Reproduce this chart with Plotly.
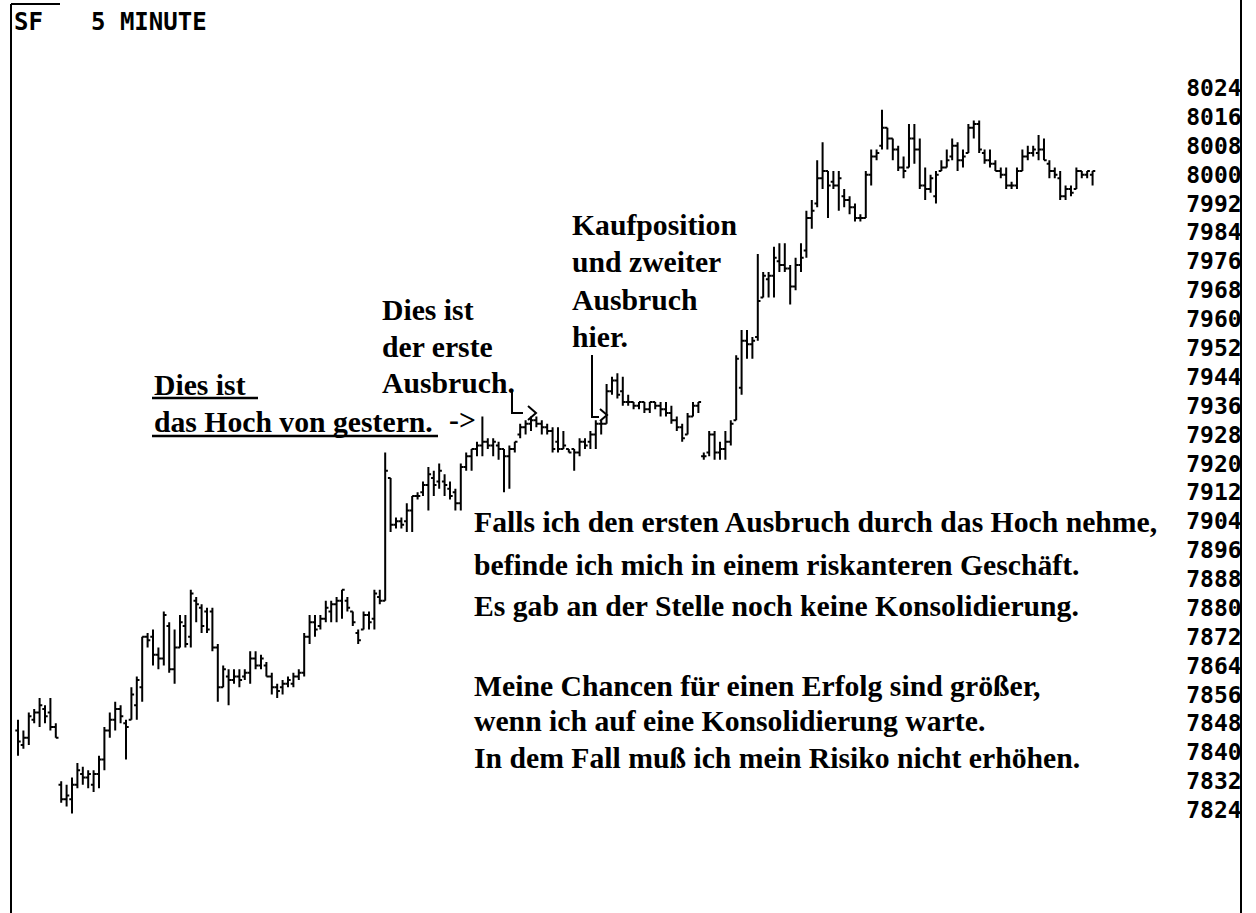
import plotly.graph_objects as go

# 5-minute OHLC bars, oldest first (prices in index points)
bar_open = [7846, 7842, 7844, 7849, 7851, 7852, 7851, 7847,
            7831, 7827, 7827, 7831, 7834, 7833, 7831, 7834, 7838, 7846, 7849, 7852,
            7848, 7849, 7853, 7858, 7872, 7872, 7867, 7866, 7875, 7863, 7869, 7875,
            7872, 7882, 7880, 7879, 7879, 7869, 7858, 7861, 7860, 7861, 7861, 7862,
            7866, 7864, 7864, 7861, 7858, 7858, 7859, 7859, 7861, 7862, 7872, 7876,
            7875, 7877, 7879, 7881, 7882, 7882, 7879, 7873, 7874, 7878, 7877, 7883,
            7882, 7916, 7903, 7904, 7904, 7907, 7911, 7912, 7914, 7916, 7915, 7915,
            7913, 7912, 7909, 7919, 7922, 7924, 7925, 7926, 7925, 7925, 7924, 7922,
            7924, 7928, 7930, 7931, 7932, 7931, 7930, 7929, 7926, 7924, 7924, 7924,
            7923, 7926, 7926, 7928, 7931, 7931, 7940, 7943, 7940, 7937, 7937, 7936,
            7937, 7935, 7937, 7936, 7935, 7934, 7932, 7930, 7928, 7933, 7936, 7922,
            7923, 7928, 7923, 7924, 7926, 7932, 7941, 7954, 7953, 7955, 7966, 7971,
            7972, 7976, 7975, 7974, 7969, 7975, 7979, 7988, 7992, 7999, 8001, 7998,
            7997, 7994, 7993, 7991, 7988, 7988, 8000, 8005, 8008, 8013, 8010, 8007,
            8002, 8002, 8010, 8007, 7997, 7996, 7994, 8001, 8002, 8005, 8008, 8004,
            8006, 8013, 8014, 8006, 8004, 8003, 8001, 8000, 7997, 7997, 8001, 8005,
            8006, 8006, 8007, 8003, 8001, 7999, 7994, 7996, 7996, 8001, 8000, 8000]
bar_high = [7849, 7846, 7851, 7852, 7855, 7853, 7855, 7848,
            7832, 7831, 7833, 7837, 7836, 7835, 7835, 7839, 7847, 7851, 7854, 7853,
            7849, 7858, 7861, 7872, 7873, 7874, 7869, 7879, 7876, 7874, 7878, 7878,
            7885, 7883, 7881, 7880, 7880, 7870, 7864, 7863, 7863, 7863, 7863, 7868,
            7868, 7867, 7865, 7862, 7859, 7860, 7861, 7862, 7863, 7873, 7878, 7878,
            7878, 7882, 7882, 7883, 7885, 7883, 7879, 7874, 7879, 7879, 7885, 7885,
            7923, 7916, 7905, 7905, 7909, 7911, 7912, 7915, 7919, 7918, 7920, 7917,
            7915, 7913, 7920, 7923, 7924, 7926, 7933, 7927, 7927, 7926, 7924, 7925,
            7926, 7931, 7932, 7933, 7933, 7932, 7931, 7930, 7930, 7929, 7924, 7924,
            7927, 7927, 7929, 7932, 7932, 7942, 7944, 7945, 7944, 7939, 7937, 7937,
            7937, 7937, 7937, 7937, 7937, 7936, 7933, 7931, 7934, 7937, 7937, 7923,
            7929, 7929, 7926, 7929, 7932, 7950, 7957, 7957, 7955, 7978, 7973, 7973,
            7980, 7981, 7981, 7975, 7977, 7981, 7990, 7993, 8004, 8009, 8001, 8001,
            8001, 7996, 7994, 7992, 7989, 8001, 8007, 8007, 8018, 8013, 8010, 8008,
            8005, 8014, 8014, 8010, 8002, 8000, 8001, 8004, 8007, 8010, 8009, 8007,
            8014, 8015, 8015, 8007, 8007, 8004, 8002, 8002, 7998, 8002, 8007, 8008,
            8008, 8011, 8010, 8004, 8002, 8001, 7997, 7997, 8002, 8001, 8001, 8001]
bar_low = [7839, 7841, 7842, 7848, 7847, 7848, 7846, 7844,
           7826, 7825, 7823, 7830, 7831, 7830, 7829, 7830, 7835, 7844, 7846, 7848,
           7838, 7849, 7849, 7854, 7869, 7864, 7863, 7864, 7862, 7859, 7869, 7869,
           7869, 7876, 7873, 7873, 7868, 7854, 7858, 7853, 7859, 7858, 7860, 7859,
           7863, 7863, 7861, 7856, 7855, 7856, 7858, 7858, 7860, 7861, 7870, 7872,
           7874, 7876, 7876, 7876, 7877, 7879, 7875, 7870, 7874, 7874, 7874, 7881,
           7882, 7901, 7902, 7902, 7901, 7901, 7910, 7911, 7907, 7911, 7913, 7911,
           7910, 7907, 7907, 7918, 7918, 7922, 7922, 7924, 7922, 7921, 7912, 7913,
           7923, 7927, 7928, 7929, 7930, 7928, 7928, 7923, 7923, 7924, 7923, 7918,
           7922, 7924, 7924, 7924, 7928, 7931, 7939, 7938, 7936, 7936, 7935, 7935,
           7934, 7934, 7935, 7933, 7933, 7931, 7929, 7926, 7928, 7933, 7934, 7921,
           7922, 7921, 7921, 7921, 7925, 7932, 7939, 7949, 7949, 7954, 7966, 7966,
           7966, 7973, 7973, 7964, 7968, 7973, 7977, 7985, 7991, 7996, 7988, 7996,
           7990, 7991, 7989, 7987, 7987, 7988, 7997, 8004, 8007, 8007, 8004, 8001,
           7999, 8002, 8003, 7996, 7993, 7995, 7992, 8001, 8002, 8004, 8001, 8002,
           8006, 8010, 8006, 8003, 8002, 8001, 7999, 7996, 7996, 7996, 8001, 8004,
           8005, 8004, 8004, 7999, 7999, 7993, 7993, 7994, 7996, 7999, 7999, 7997]
bar_close = [7843, 7844, 7850, 7851, 7853, 7850, 7847, 7844,
             7827, 7828, 7831, 7835, 7833, 7834, 7834, 7838, 7846, 7849, 7852, 7850,
             7847, 7856, 7860, 7872, 7871, 7867, 7866, 7878, 7863, 7869, 7876, 7870,
             7884, 7881, 7875, 7874, 7869, 7858, 7863, 7860, 7861, 7860, 7862, 7866,
             7864, 7866, 7861, 7858, 7857, 7859, 7860, 7861, 7862, 7872, 7876, 7874,
             7877, 7880, 7881, 7882, 7885, 7880, 7876, 7871, 7878, 7876, 7884, 7882,
             7918, 7903, 7904, 7903, 7907, 7911, 7911, 7914, 7917, 7914, 7918, 7914,
             7911, 7909, 7919, 7922, 7924, 7925, 7926, 7925, 7926, 7924, 7922, 7924,
             7926, 7930, 7931, 7932, 7931, 7930, 7929, 7924, 7924, 7925, 7923, 7923,
             7926, 7925, 7928, 7931, 7931, 7940, 7943, 7939, 7937, 7937, 7936, 7937,
             7935, 7937, 7936, 7935, 7934, 7932, 7930, 7927, 7933, 7936, 7937, 7922,
             7928, 7923, 7924, 7926, 7931, 7949, 7954, 7953, 7954, 7965, 7972, 7972,
             7977, 7975, 7974, 7969, 7975, 7977, 7988, 7990, 7999, 8001, 7997, 7997,
             7999, 7993, 7991, 7988, 7988, 8000, 8005, 8006, 8013, 8010, 8007, 8002,
             8001, 8010, 8007, 7997, 7996, 7999, 8000, 8002, 8004, 8008, 8004, 8005,
             8013, 8014, 8007, 8004, 8003, 8001, 8000, 7997, 7997, 8001, 8005, 8006,
             8007, 8007, 8004, 8001, 8000, 7994, 7996, 7995, 8001, 8000, 8001, 8001]
bar_index = list(range(len(bar_open)))

# right-hand price scale
price_ticks = list(range(7824, 8025, 8))
price_labels = [str(p) for p in price_ticks]

FIG_W, FIG_H = 1256, 913
PLOT_W = 1240  # plot area ends at the price-scale line

def fx(x):
    return x / PLOT_W

def fy(y):
    return 1 - y / FIG_H

fig = go.Figure(go.Ohlc(
    x=bar_index, open=bar_open, high=bar_high, low=bar_low, close=bar_close,
    increasing=dict(line=dict(color="black", width=2)),
    decreasing=dict(line=dict(color="black", width=2)),
    tickwidth=0.5, hoverinfo="skip", showlegend=False,
))

serif = dict(family="Liberation Serif", size=29.7, color="black", weight="bold")

notes = [
    ("Kaufposition", 570, 225), ("und zweiter", 570, 262), ("Ausbruch", 570, 300), ("hier.", 570, 337),
    ("Dies ist", 380, 310), ("der erste", 380, 347), ("Ausbruch.", 380, 383),
    ("Dies ist", 152, 385), ("das Hoch von gestern.", 152, 422), ("->", 447, 420),
    ("Falls ich den ersten Ausbruch durch das Hoch nehme,", 472, 522),
    ("befinde ich mich in einem riskanteren Geschäft.", 472, 565),
    ("Es gab an der Stelle noch keine Konsolidierung.", 472, 606),
    ("Meine Chancen für einen Erfolg sind größer,", 472, 686),
    ("wenn ich auf eine Konsolidierung warte.", 472, 721),
    ("In dem Fall muß ich mein Risiko nicht erhöhen.", 472, 758),
]
annotations = [dict(text=t, x=fx(x), y=fy(y), xref="paper", yref="paper",
                    xanchor="left", yanchor="middle", showarrow=False, font=serif)
               for t, x, y in notes]

title_font = dict(family="DejaVu Sans Mono", size=24, color="black", weight="bold")
annotations += [
    dict(text="SF", x=fx(12), y=fy(22), xref="paper", yref="paper", xanchor="left",
         yanchor="middle", showarrow=False, font=title_font),
    dict(text="5 MINUTE", x=fx(89), y=fy(22), xref="paper", yref="paper", xanchor="left",
         yanchor="middle", showarrow=False, font=title_font),
]

def path(points):
    return "M " + " L ".join(f"{fx(x):.5f},{fy(y):.5f}" for x, y in points)

line_style = dict(color="black", width=2)
shapes = [
    # frame: left edge and top-left corner
    dict(type="line", xref="paper", yref="paper", x0=fx(11), x1=fx(11), y0=0, y1=fy(4),
         line=line_style),
    dict(type="line", xref="paper", yref="paper", x0=fx(11), x1=fx(60), y0=fy(4), y1=fy(4),
         line=line_style),
    # underlines
    dict(type="line", xref="paper", yref="paper", x0=fx(152), x1=fx(258), y0=fy(398), y1=fy(398),
         line=dict(color="black", width=2.5)),
    dict(type="line", xref="paper", yref="paper", x0=fx(152), x1=fx(438), y0=fy(436), y1=fy(436),
         line=dict(color="black", width=2.5)),
    # pointer from "Ausbruch."
    dict(type="path", xref="paper", yref="paper", path=path([(512, 390), (512, 413), (523, 413)]),
         line=line_style),
    dict(type="path", xref="paper", yref="paper", path=path([(528, 406), (536, 413), (528, 420)]),
         line=line_style),
    # pointer from "hier."
    dict(type="path", xref="paper", yref="paper", path=path([(592, 355), (592, 417), (599, 417)]),
         line=line_style),
    dict(type="path", xref="paper", yref="paper", path=path([(600, 409), (607, 415), (600, 421)]),
         line=line_style),
]

fig.update_layout(
    width=FIG_W, height=FIG_H,
    margin=dict(l=0, r=FIG_W - PLOT_W, t=0, b=0),
    paper_bgcolor="white", plot_bgcolor="white",
    annotations=annotations, shapes=shapes,
    xaxis=dict(range=[-3.333, 226.3], visible=False, rangeslider=dict(visible=False),
               fixedrange=True),
    yaxis=dict(range=[7795.47, 8048.38], side="right", tickvals=price_ticks,
               ticktext=price_labels, ticklabelposition="inside", ticks="",
               showgrid=False, zeroline=False, showline=True, linecolor="black",
               linewidth=2, tickfont=dict(family="DejaVu Sans Mono", size=23,
                                          color="black", weight="bold"),
               fixedrange=True),
)

fig.write_html("out.html")
